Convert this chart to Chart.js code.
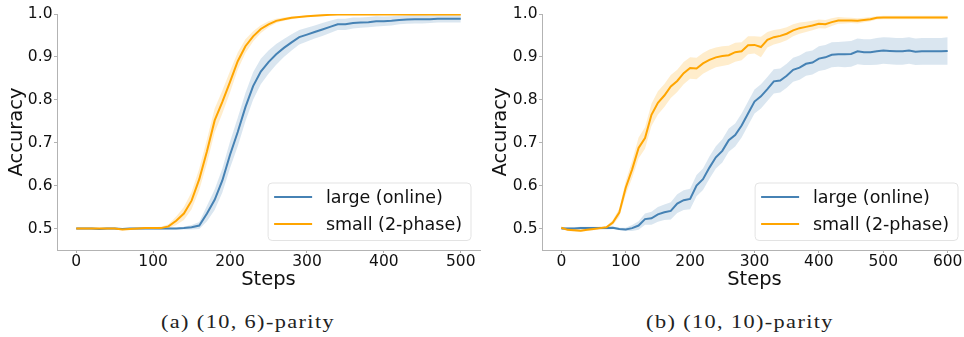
<!DOCTYPE html>
<html>
<head>
<meta charset="utf-8">
<script src="https://cdn.jsdelivr.net/npm/chart.js@4.4.0/dist/chart.umd.min.js"></script>
<style>
  html, body { margin: 0; padding: 0; background: #fff; width: 964px; height: 337px; overflow: hidden; }
  .panel { position: absolute; top: 0; width: 490px; height: 292px; }
  #panelA { left: 0; }
  #panelB { left: 484px; }
  .caption { position: absolute; top: 312px; width: 400px; text-align: center; font-family: "Liberation Serif", serif;
             font-size: 19.5px; line-height: 19px; letter-spacing: 1.2px; white-space: nowrap; color: #222; transform-origin: 50% 50%; }
  #capA { left: 48px; }
  #capB { left: 540px; }
</style>
</head>
<body>
<div class="panel" id="panelA"><canvas id="chartA" width="490" height="292"></canvas></div>
<div class="panel" id="panelB"><canvas id="chartB" width="490" height="292"></canvas></div>
<div class="caption" id="capA"><span>(a) (10, 6)-parity</span></div>
<div class="caption" id="capB"><span>(b) (10, 10)-parity</span></div>
<script>
// (a) (10, 6)-parity
const stepsA = [0, 10, 20, 30, 40, 50, 60, 70, 80, 90,
  100, 110, 120, 130, 140, 150, 160, 170, 180, 190,
  200, 210, 220, 230, 240, 250, 260, 270, 280, 290,
  300, 310, 320, 330, 340, 350, 360, 370, 380, 390,
  400, 410, 420, 430, 440, 450, 460, 470, 480, 490, 500];
const largeA = [0.500, 0.500, 0.500, 0.499, 0.500, 0.500, 0.499, 0.500, 0.500, 0.500,
  0.500, 0.500, 0.500, 0.500, 0.501, 0.503, 0.507, 0.535, 0.567, 0.612,
  0.672, 0.725, 0.783, 0.832, 0.866, 0.888, 0.906, 0.921, 0.934, 0.946,
  0.952, 0.958, 0.964, 0.970, 0.976, 0.976, 0.979, 0.980, 0.981, 0.983,
  0.983, 0.984, 0.986, 0.987, 0.988, 0.988, 0.988, 0.989, 0.989, 0.989, 0.989];
const largeSpreadA = [0.002, 0.002, 0.002, 0.002, 0.002, 0.002, 0.002, 0.002, 0.002, 0.002,
  0.002, 0.002, 0.002, 0.002, 0.003, 0.005, 0.008, 0.018, 0.024, 0.028,
  0.031, 0.033, 0.033, 0.032, 0.030, 0.027, 0.024, 0.021, 0.019, 0.017,
  0.016, 0.015, 0.015, 0.014, 0.013, 0.013, 0.013, 0.012, 0.012, 0.012,
  0.011, 0.011, 0.010, 0.010, 0.010, 0.010, 0.009, 0.009, 0.009, 0.009, 0.009];
const smallA = [0.500, 0.500, 0.500, 0.500, 0.500, 0.500, 0.498, 0.499, 0.500, 0.501,
  0.501, 0.501, 0.505, 0.518, 0.535, 0.565, 0.615, 0.680, 0.752, 0.795,
  0.842, 0.890, 0.925, 0.948, 0.965, 0.976, 0.984, 0.988, 0.991, 0.993,
  0.995, 0.996, 0.997, 0.998, 0.999, 0.999, 0.999, 0.999, 0.999, 0.999,
  0.999, 0.999, 0.999, 0.999, 0.999, 0.999, 0.999, 0.999, 0.999, 0.999, 0.999];
const smallSpreadA = [0.002, 0.002, 0.002, 0.002, 0.002, 0.002, 0.002, 0.002, 0.002, 0.002,
  0.002, 0.003, 0.005, 0.010, 0.015, 0.020, 0.025, 0.028, 0.028, 0.027,
  0.025, 0.020, 0.016, 0.012, 0.009, 0.007, 0.005, 0.004, 0.003, 0.002,
  0.002, 0.002, 0.002, 0.002, 0.002, 0.002, 0.002, 0.002, 0.002, 0.002,
  0.001, 0.001, 0.001, 0.001, 0.001, 0.001, 0.001, 0.001, 0.001, 0.001, 0.001];

// (b) (10, 10)-parity
const stepsB = [0, 10, 20, 30, 40, 50, 60, 70, 80, 90,
  100, 110, 120, 130, 140, 150, 160, 170, 180, 190,
  200, 210, 220, 230, 240, 250, 260, 270, 280, 290,
  300, 310, 320, 330, 340, 350, 360, 370, 380, 390,
  400, 410, 420, 430, 440, 450, 460, 470, 480, 490,
  500, 510, 520, 530, 540, 550, 560, 570, 580, 590, 600];
const largeB = [0.500, 0.500, 0.500, 0.501, 0.501, 0.501, 0.501, 0.501, 0.502, 0.499,
  0.498, 0.501, 0.507, 0.522, 0.524, 0.533, 0.538, 0.541, 0.558, 0.566,
  0.569, 0.600, 0.615, 0.642, 0.666, 0.681, 0.706, 0.718, 0.740, 0.768,
  0.796, 0.808, 0.825, 0.843, 0.845, 0.856, 0.870, 0.875, 0.884, 0.887,
  0.896, 0.899, 0.905, 0.906, 0.906, 0.907, 0.913, 0.911, 0.911, 0.913,
  0.915, 0.914, 0.913, 0.913, 0.915, 0.912, 0.913, 0.913, 0.913, 0.913, 0.914];
const largeSpreadB = [0.003, 0.003, 0.003, 0.003, 0.003, 0.003, 0.003, 0.003, 0.003, 0.003,
  0.004, 0.007, 0.010, 0.013, 0.015, 0.017, 0.018, 0.020, 0.022, 0.023,
  0.024, 0.025, 0.025, 0.026, 0.026, 0.027, 0.027, 0.027, 0.028, 0.028,
  0.028, 0.028, 0.028, 0.028, 0.028, 0.028, 0.028, 0.028, 0.028, 0.028,
  0.029, 0.029, 0.029, 0.029, 0.030, 0.030, 0.030, 0.030, 0.030, 0.031,
  0.031, 0.031, 0.031, 0.031, 0.031, 0.031, 0.031, 0.031, 0.031, 0.031, 0.032];
const smallB = [0.502, 0.497, 0.496, 0.495, 0.497, 0.499, 0.501, 0.503, 0.514, 0.537,
  0.595, 0.638, 0.688, 0.711, 0.765, 0.793, 0.810, 0.831, 0.844, 0.862,
  0.874, 0.873, 0.885, 0.893, 0.899, 0.902, 0.904, 0.911, 0.913, 0.927,
  0.928, 0.923, 0.940, 0.946, 0.949, 0.954, 0.962, 0.967, 0.970, 0.973,
  0.977, 0.976, 0.981, 0.985, 0.985, 0.985, 0.984, 0.986, 0.988, 0.991,
  0.992, 0.992, 0.992, 0.992, 0.992, 0.992, 0.992, 0.992, 0.992, 0.992, 0.992];
const smallSpreadB = [0.003, 0.003, 0.003, 0.003, 0.003, 0.003, 0.003, 0.003, 0.006, 0.010,
  0.016, 0.020, 0.024, 0.025, 0.026, 0.027, 0.027, 0.027, 0.026, 0.026,
  0.025, 0.025, 0.024, 0.024, 0.023, 0.023, 0.022, 0.022, 0.021, 0.021,
  0.020, 0.024, 0.018, 0.017, 0.016, 0.015, 0.014, 0.013, 0.012, 0.011,
  0.010, 0.010, 0.009, 0.008, 0.007, 0.006, 0.006, 0.005, 0.005, 0.004,
  0.004, 0.004, 0.004, 0.004, 0.004, 0.004, 0.004, 0.004, 0.004, 0.004, 0.004];

const seriesNames = ['large (online)', 'small (2-phase)'];
const yTicks = [0.5, 0.6, 0.7, 0.8, 0.9, 1.0];

const blue = 'rgb(70, 130, 180)';
const blueBand = 'rgba(70, 130, 180, 0.2)';
const orange = 'rgb(255, 165, 0)';
const orangeBand = 'rgba(255, 165, 0, 0.2)';
const textColor = '#111';
const spineColor = '#b3b3b3';

Chart.defaults.font.family = '"DejaVu Sans", sans-serif';
Chart.defaults.color = textColor;

// sign: 0 for the mean, -1 / +1 for the edges of the shaded band
function points(steps, values, spread, sign) {
    return steps.map(function(s, i) {
        return { x: s, y: sign ? values[i] + sign * spread[i] : values[i] };
    });
}

// legend box in the lower right corner of the plot area
const cornerLegend = {
    id: 'cornerLegend',
    afterDraw: function(chart) {
        const ctx = chart.ctx;
        const area = chart.chartArea;
        const items = chart.data.datasets.filter(function(d) { return d.legendRank !== undefined; })
            .sort(function(a, b) { return a.legendRank - b.legendRank; });
        ctx.save();
        ctx.font = '17.5px "DejaVu Sans"';
        let textW = 0;
        items.forEach(function(d) { textW = Math.max(textW, ctx.measureText(d.label).width); });
        const w = 58.3 + textW + 8.5;
        const h = 57.5;
        const right = area.right - 9.5;
        const bottom = area.bottom - 10;
        const left = right - w;
        const top = bottom - h;
        ctx.beginPath();
        ctx.roundRect(left + 0.5, top + 0.5, w, h, 4);
        ctx.fillStyle = 'rgba(255,255,255,0.8)';
        ctx.fill();
        ctx.strokeStyle = '#e3e3e3';
        ctx.lineWidth = 1;
        ctx.stroke();
        items.forEach(function(d, i) {
            const y = top + 14.5 + i * 27;
            ctx.beginPath();
            ctx.moveTo(left + 6.5, y);
            ctx.lineTo(left + 44.5, y);
            ctx.strokeStyle = d.borderColor;
            ctx.lineWidth = 2;
            ctx.stroke();
            ctx.fillStyle = textColor;
            ctx.textBaseline = 'middle';
            ctx.textAlign = 'left';
            ctx.fillText(d.label, left + 58.3, y + 1);
        });
        ctx.restore();
    }
};

function makeChart(canvasId, steps, large, largeSpread, small, smallSpread, xMin, xMax, yWidth, padRight) {
    const ctx = document.getElementById(canvasId).getContext('2d');
    const lineBase = { pointRadius: 0, borderWidth: 2, tension: 0, fill: false };
    const bandBase = { pointRadius: 0, borderWidth: 0, tension: 0 };
    return new Chart(ctx, {
        type: 'line',
        data: {
            datasets: [
                Object.assign({ label: seriesNames[1], legendRank: 1, data: points(steps, small, smallSpread, 0),
                    borderColor: orange, backgroundColor: orange }, lineBase),
                Object.assign({ label: seriesNames[0], legendRank: 0, data: points(steps, large, largeSpread, 0),
                    borderColor: blue, backgroundColor: blue }, lineBase),
                Object.assign({ data: points(steps, small, smallSpread, -1), fill: false }, bandBase),
                Object.assign({ data: points(steps, small, smallSpread, 1), fill: '-1', backgroundColor: orangeBand }, bandBase),
                Object.assign({ data: points(steps, large, largeSpread, -1), fill: false }, bandBase),
                Object.assign({ data: points(steps, large, largeSpread, 1), fill: '-1', backgroundColor: blueBand }, bandBase)
            ]
        },
        options: {
            responsive: false,
            devicePixelRatio: 1,
            animation: false,
            layout: { padding: { left: 0, top: 14, right: padRight, bottom: 0 } },
            plugins: { legend: { display: false }, tooltip: { enabled: false } },
            scales: {
                x: {
                    type: 'linear',
                    min: xMin,
                    max: xMax,
                    grid: { drawOnChartArea: false, drawTicks: true, tickLength: 3, color: spineColor },
                    border: { color: spineColor, width: 1 },
                    ticks: { stepSize: 100, includeBounds: false, padding: 0, font: { size: 15.5 }, color: textColor, maxRotation: 0 },
                    title: { display: true, text: 'Steps', font: { size: 19.5 }, color: textColor, padding: { top: 0, bottom: 0 } },
                    afterFit: function(scale) { scale.height = 42; }
                },
                y: {
                    min: 0.45,
                    max: 1.0,
                    grid: { drawOnChartArea: false, drawTicks: true, tickLength: 3, color: spineColor },
                    border: { color: spineColor, width: 1 },
                    afterBuildTicks: function(scale) { scale.ticks = yTicks.map(function(v) { return { value: v }; }); },
                    ticks: { padding: 1.5, font: { size: 15.5 }, color: textColor,
                        callback: function(v) { return Number(v).toFixed(1); } },
                    title: { display: true, text: 'Accuracy', font: { size: 19.5 }, color: textColor, padding: { top: 5, bottom: 0 } },
                    afterFit: function(scale) { scale.width = yWidth; }
                }
            }
        },
        plugins: [cornerLegend]
    });
}

makeChart('chartA', stepsA, largeA, largeSpreadA, smallA, smallSpreadA, -25, 525, 57, 10);
makeChart('chartB', stepsB, largeB, largeSpreadB, smallB, smallSpreadB, -30, 630, 58, 7);

// the captions in the figure are set wide; stretch them to the same width
const capSpan = document.querySelector('#capA span');
const stretch = 174 / capSpan.getBoundingClientRect().width;
document.querySelectorAll('.caption').forEach(function(el) {
    el.style.transform = 'scaleX(' + stretch.toFixed(3) + ')';
});
</script>
</body>
</html>
